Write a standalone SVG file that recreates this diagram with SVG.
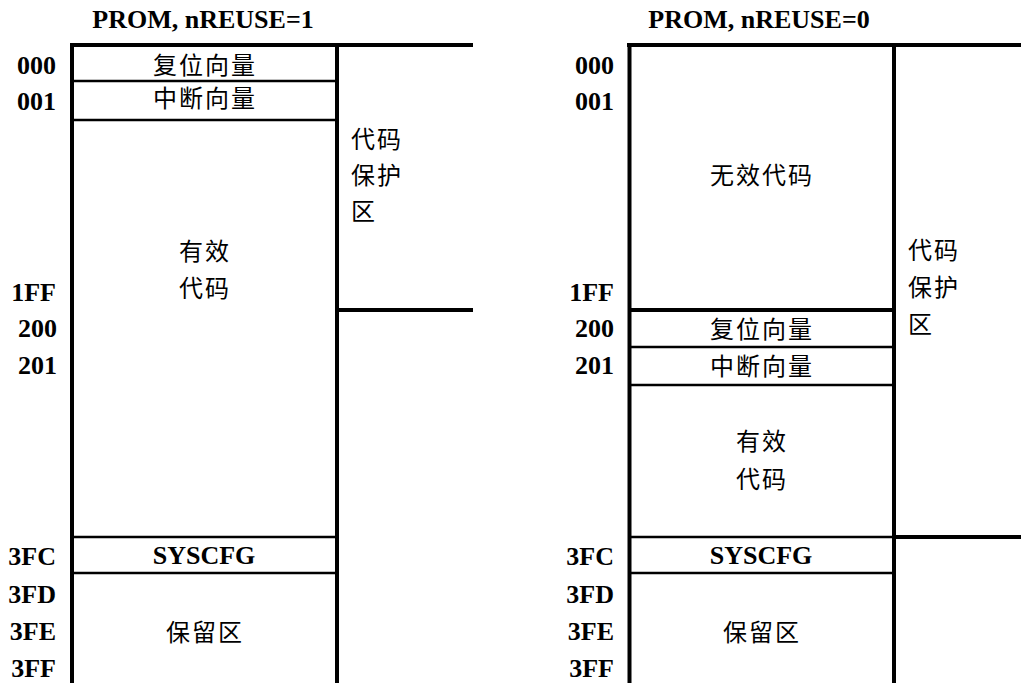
<svg xmlns="http://www.w3.org/2000/svg" width="1021" height="683" viewBox="0 0 1021 683">
<style>
.lat{font-family:"Liberation Serif","Times New Roman",serif;font-weight:bold;font-size:26px;fill:#000}
.addr{text-anchor:end}
.mid{text-anchor:middle}
.cjk{font-family:"Noto Sans CJK SC","Noto Sans CJK TC",sans-serif;font-size:24px;fill:#000;letter-spacing:2px}
.thick{stroke:#000;stroke-width:4;fill:none}
.thin{stroke:#000;stroke-width:2.5;fill:none}
</style>
<rect width="1021" height="683" fill="#fff"/>

<!-- Titles -->
<text id="title-left" class="lat mid" x="203" y="28">PROM, nREUSE=1</text>
<text id="title-right" class="lat mid" x="759" y="28">PROM, nREUSE=0</text>

<!-- Left panel address labels -->
<g id="addr-left" class="lat addr">
<text class="lat addr" x="56" y="74">000</text>
<text class="lat addr" x="56" y="110">001</text>
<text class="lat addr" x="56" y="301">1FF</text>
<text class="lat addr" x="57" y="337">200</text>
<text class="lat addr" x="57" y="374">201</text>
<text class="lat addr" x="56" y="565">3FC</text>
<text class="lat addr" x="56" y="603">3FD</text>
<text class="lat addr" x="56" y="640">3FE</text>
<text class="lat addr" x="56" y="677">3FF</text>
</g>

<!-- Right panel address labels -->
<g id="addr-right">
<text class="lat addr" x="614" y="74">000</text>
<text class="lat addr" x="614" y="110">001</text>
<text class="lat addr" x="614" y="301">1FF</text>
<text class="lat addr" x="614" y="337">200</text>
<text class="lat addr" x="614" y="374">201</text>
<text class="lat addr" x="614" y="565">3FC</text>
<text class="lat addr" x="614" y="603">3FD</text>
<text class="lat addr" x="614" y="640">3FE</text>
<text class="lat addr" x="614" y="677">3FF</text>
</g>

<!-- Connectors / frame lines -->
<g id="lines">
<!-- left panel -->
<line class="thick" x1="70" y1="45" x2="473" y2="45"/>
<line class="thick" x1="72" y1="43" x2="72" y2="683"/>
<line class="thick" x1="337" y1="43" x2="337" y2="683"/>
<line class="thin" x1="72" y1="81" x2="337" y2="81"/>
<line class="thin" x1="72" y1="120" x2="337" y2="120"/>
<line class="thick" x1="337" y1="310" x2="473" y2="310"/>
<line class="thin" x1="72" y1="537" x2="337" y2="537"/>
<line class="thin" x1="72" y1="573" x2="337" y2="573"/>
<!-- right panel -->
<line class="thick" x1="627" y1="45" x2="1021" y2="45"/>
<line class="thick" x1="629.5" y1="43" x2="629.5" y2="683"/>
<line class="thick" x1="894" y1="43" x2="894" y2="683"/>
<line class="thick" x1="629.5" y1="310" x2="894" y2="310"/>
<line class="thin" x1="629.5" y1="347" x2="894" y2="347"/>
<line class="thin" x1="629.5" y1="385" x2="894" y2="385"/>
<line class="thin" x1="629.5" y1="537" x2="894" y2="537"/>
<line class="thick" x1="894" y1="537" x2="1021" y2="537"/>
<line class="thin" x1="629.5" y1="573" x2="894" y2="573"/>
</g>

<!-- Left panel nodes -->
<g id="L-reset"><text class="cjk mid" x="205" y="74">复位向量</text></g>
<g id="L-int"><text class="cjk mid" x="205" y="107">中断向量</text></g>
<g id="L-valid"><text class="cjk mid" x="205" y="260">有效</text><text class="cjk mid" x="205" y="297">代码</text></g>
<g id="L-protect"><text class="cjk" x="351" y="148">代码</text><text class="cjk" x="351" y="184">保护</text><text class="cjk" x="351" y="220">区</text></g>
<g id="L-syscfg"><text class="lat mid" x="204" y="564">SYSCFG</text></g>
<g id="L-reserved"><text class="cjk mid" x="205" y="641">保留区</text></g>

<!-- Right panel nodes -->
<g id="R-invalid"><text class="cjk mid" x="762" y="184">无效代码</text></g>
<g id="R-reset"><text class="cjk mid" x="762" y="338">复位向量</text></g>
<g id="R-int"><text class="cjk mid" x="762" y="375">中断向量</text></g>
<g id="R-valid"><text class="cjk mid" x="762" y="450">有效</text><text class="cjk mid" x="762" y="488">代码</text></g>
<g id="R-protect"><text class="cjk" x="908" y="259">代码</text><text class="cjk" x="908" y="296">保护</text><text class="cjk" x="908" y="333">区</text></g>
<g id="R-syscfg"><text class="lat mid" x="761" y="564">SYSCFG</text></g>
<g id="R-reserved"><text class="cjk mid" x="762" y="641">保留区</text></g>
</svg>
